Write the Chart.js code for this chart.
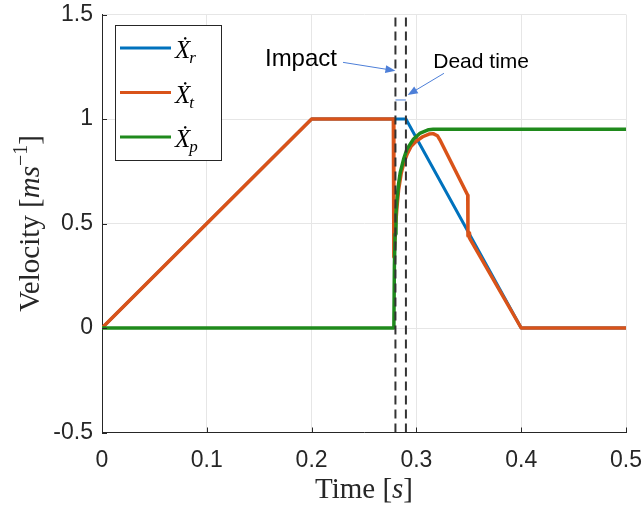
<!DOCTYPE html>
<html>
<head>
<meta charset="utf-8">
<script src="https://cdn.jsdelivr.net/npm/chart.js@4.4.1/dist/chart.umd.min.js"></script>
<style>
  html, body { margin: 0; padding: 0; background: #ffffff; }
  #wrap { width: 643px; height: 510px; }
</style>
</head>
<body>
<div id="wrap"><canvas id="c" width="643" height="510"></canvas></div>
<script>
// Robot (reference) velocity profile
const timeRef = [0, 0.2, 0.29, 0.4, 0.5];
const velRef  = [0, 1, 1, 0, 0];

// Tool velocity: drops at impact, recovers, then follows the deceleration
const timeTool = [0, 0.2, 0.278, 0.2785, 0.2800, 0.2815, 0.2830, 0.2855, 0.2880, 0.2910, 0.2950, 0.3000, 0.3060, 0.3120, 0.3160, 0.3200, 0.3230, 0.3490, 0.3492, 0.3505, 0.3507, 0.4, 0.5];
const velTool  = [0, 1, 1, 0.34, 0.48, 0.58, 0.66, 0.74, 0.79, 0.83, 0.87, 0.895, 0.915, 0.928, 0.93, 0.92, 0.895, 0.635, 0.44, 0.455, 0.43, 0, 0];

// Payload velocity: at rest until impact, then accelerated to a constant speed
const timePay = [0, 0.2785, 0.2790, 0.2797, 0.2805, 0.2815, 0.2830, 0.2846, 0.2878, 0.2910, 0.2973, 0.3037, 0.3117, 0.3160, 0.5];
const velPay  = [0, 0, 0.30, 0.45, 0.55, 0.615, 0.69, 0.744, 0.808, 0.856, 0.904, 0.933, 0.949, 0.951, 0.951];

// Event markers
const impactTime = 0.28;
const deadTimeEnd = 0.29;
const markerSpan = [-0.5, 1.5];
const deadTimeBarLevel = 1.091;

// Axis ticks
const xTicks = [0, 0.1, 0.2, 0.3, 0.4, 0.5];
const xTickLabels = ['0', '0.1', '0.2', '0.3', '0.4', '0.5'];
const yTicks = [-0.5, 0, 0.5, 1, 1.5];
const yTickLabels = ['-0.5', '0', '0.5', '1', '1.5'];

// Callouts, anchored in data units: [text, textX, textY, arrowFromX, arrowFromY, arrowToX, arrowToY]
const impactNote = ['Impact', 0.1555, 1.255, 0.230, 1.271, 0.280, 1.231];
const deadTimeNote = ['Dead time', 0.3161, 1.2425, 0.3263, 1.2186, 0.2917, 1.1148];

const pts = (ts, vs) => ts.map((t, i) => ({ x: t, y: vs[i] }));

const C_BLUE = '#0072BD';
const C_ORANGE = '#D95319';
const C_GREEN = '#1f8a1c';
const C_AXIS = '#262626';
const C_NOTE = '#4d7fd8';
const SANS = '"Liberation Sans", Arial, Helvetica, sans-serif';
const SERIF = '"Liberation Serif", "DejaVu Serif", "Times New Roman", serif';

function labelFor(ticks, labels, v) {
  const i = ticks.findIndex(t => Math.abs(t - v) < 1e-9);
  return i >= 0 ? labels[i] : '';
}

function drawRich(ctx, segs, cx, baseY) {
  let w = 0;
  segs.forEach(s => { ctx.font = s.font; s.w = ctx.measureText(s.text).width; w += s.w; });
  let x = cx - w / 2;
  ctx.textAlign = 'left';
  ctx.textBaseline = 'alphabetic';
  segs.forEach(s => {
    ctx.font = s.font;
    ctx.fillText(s.text, x, baseY + (s.dy || 0));
    x += s.w;
  });
}

function arrow(ctx, x1, y1, x2, y2) {
  const a = Math.atan2(y2 - y1, x2 - x1);
  const len = 10, hw = 4;
  ctx.beginPath();
  ctx.moveTo(x1, y1);
  ctx.lineTo(x2 - Math.cos(a) * len * 0.8, y2 - Math.sin(a) * len * 0.8);
  ctx.stroke();
  ctx.beginPath();
  ctx.moveTo(x2, y2);
  ctx.lineTo(x2 - Math.cos(a) * len - Math.sin(a) * hw, y2 - Math.sin(a) * len + Math.cos(a) * hw);
  ctx.lineTo(x2 - Math.cos(a) * len + Math.sin(a) * hw, y2 - Math.sin(a) * len - Math.cos(a) * hw);
  ctx.closePath();
  ctx.fill();
}

const decorations = {
  id: 'decorations',
  afterDatasetsDraw(chart) {
    const { ctx, chartArea: ca, scales: { x, y } } = chart;
    ctx.save();

    // inward tick marks
    ctx.strokeStyle = C_AXIS;
    ctx.lineWidth = 1;
    ctx.beginPath();
    xTicks.forEach(t => {
      const px = Math.round(x.getPixelForValue(t)) + 0.5;
      ctx.moveTo(px, ca.bottom); ctx.lineTo(px, ca.bottom - 5);
    });
    yTicks.forEach(v => {
      const py = Math.round(y.getPixelForValue(v)) + 0.5;
      ctx.moveTo(ca.left, py); ctx.lineTo(ca.left + 5, py);
    });
    ctx.stroke();

    // axis titles
    ctx.fillStyle = C_AXIS;
    drawRich(ctx, [
      { text: 'Time ', font: '29px ' + SERIF },
      { text: '[', font: '29px ' + SERIF },
      { text: 's', font: 'italic 29px ' + SERIF },
      { text: ']', font: '29px ' + SERIF }
    ], (ca.left + ca.right) / 2, 498);

    ctx.save();
    ctx.translate(39, (ca.top + ca.bottom) / 2);
    ctx.rotate(-Math.PI / 2);
    drawRich(ctx, [
      { text: 'Velocity ', font: '29px ' + SERIF },
      { text: '[', font: '29px ' + SERIF },
      { text: 'ms', font: 'italic 29px ' + SERIF },
      { text: '\u22121', font: '20px ' + SERIF, dy: -12 },
      { text: ']', font: '29px ' + SERIF }
    ], 0, 0);
    ctx.restore();

    // legend
    const lx = ca.left + 13, ly = ca.top + 10.5, lw = 106, lh = 135;
    ctx.fillStyle = '#ffffff';
    ctx.fillRect(lx, ly, lw, lh);
    ctx.strokeStyle = C_AXIS;
    ctx.lineWidth = 1;
    ctx.strokeRect(lx + 0.5, ly + 0.5, lw, lh);
    const entries = [[C_BLUE, 'r'], [C_ORANGE, 't'], [C_GREEN, 'p']];
    entries.forEach(([col, sub], i) => {
      const ey = ly + 23 + i * 44.5;
      ctx.strokeStyle = col;
      ctx.lineWidth = 3;
      ctx.beginPath();
      ctx.moveTo(lx + 5, ey); ctx.lineTo(lx + 56, ey);
      ctx.stroke();
      ctx.fillStyle = '#000000';
      ctx.textAlign = 'left';
      ctx.textBaseline = 'alphabetic';
      ctx.font = 'italic 25px ' + SERIF;
      ctx.fillText('\u1E8A', lx + 60, ey + 10);
      const xw = ctx.measureText('\u1E8A').width;
      ctx.font = 'italic 17px ' + SERIF;
      ctx.fillText(sub, lx + 60 + xw - 1, ey + 15);
    });

    // callouts
    ctx.textAlign = 'left';
    ctx.textBaseline = 'alphabetic';
    [[impactNote, 24], [deadTimeNote, 21]].forEach(([n, size]) => {
      ctx.fillStyle = '#000000';
      ctx.font = size + 'px ' + SANS;
      ctx.fillText(n[0], x.getPixelForValue(n[1]), y.getPixelForValue(n[2]));
      ctx.strokeStyle = C_NOTE;
      ctx.fillStyle = C_NOTE;
      ctx.lineWidth = 1;
      arrow(ctx, x.getPixelForValue(n[3]), y.getPixelForValue(n[4]),
                 x.getPixelForValue(n[5]), y.getPixelForValue(n[6]));
    });

    ctx.restore();
  }
};

const lineDefaults = { pointRadius: 0, tension: 0, fill: false, borderJoinStyle: 'round', borderCapStyle: 'butt' };

const noScalePadding = s => { s.paddingTop = 0; s.paddingBottom = 0; s.paddingLeft = 0; s.paddingRight = 0; };

new Chart(document.getElementById('c'), {
  type: 'line',
  data: {
    datasets: [
      { ...lineDefaults, label: 'X_r', data: pts(timeRef, velRef), borderColor: C_BLUE, borderWidth: 3, order: 3 },
      { ...lineDefaults, label: 'X_t', data: pts(timeTool, velTool), borderColor: C_ORANGE, borderWidth: 3.5, order: 2 },
      { ...lineDefaults, label: 'X_p', data: pts(timePay, velPay), borderColor: C_GREEN, borderWidth: 3.5, order: 1 },
      { ...lineDefaults, label: 'impact', data: pts([impactTime, impactTime], markerSpan), borderColor: '#333333', borderWidth: 2, borderDash: [9, 5], order: 0 },
      { ...lineDefaults, label: 'dead time end', data: pts([deadTimeEnd, deadTimeEnd], markerSpan), borderColor: '#333333', borderWidth: 2, borderDash: [9, 5], order: 0 },
      { ...lineDefaults, label: 'dead time', data: pts([impactTime, deadTimeEnd], [deadTimeBarLevel, deadTimeBarLevel]), borderColor: C_NOTE, borderWidth: 1, order: 0 }
    ]
  },
  options: {
    responsive: false,
    animation: false,
    events: [],
    layout: { padding: { left: 0, right: 17, top: 14.5, bottom: 0 } },
    plugins: { legend: { display: false }, tooltip: { enabled: false } },
    scales: {
      x: {
        type: 'linear', min: 0, max: 0.5,
        afterFit: s => { s.height = 77.5; noScalePadding(s); },
        afterBuildTicks: s => { s.ticks = xTicks.map(v => ({ value: v })); },
        grid: { color: '#e6e6e6', lineWidth: 1, drawTicks: false },
        border: { display: true, color: C_AXIS, width: 1 },
        ticks: {
          padding: 14, color: C_AXIS, maxRotation: 0,
          font: { family: SANS, size: 23 },
          callback: v => labelFor(xTicks, xTickLabels, v)
        }
      },
      y: {
        type: 'linear', min: -0.5, max: 1.5,
        afterFit: s => { s.width = 102; noScalePadding(s); },
        afterBuildTicks: s => { s.ticks = yTicks.map(v => ({ value: v })); },
        grid: { color: '#e6e6e6', lineWidth: 1, drawTicks: false },
        border: { display: true, color: C_AXIS, width: 1 },
        ticks: {
          padding: 9, color: C_AXIS,
          font: { family: SANS, size: 23 },
          callback: v => labelFor(yTicks, yTickLabels, v)
        }
      }
    }
  },
  plugins: [decorations]
});
</script>
</body>
</html>
